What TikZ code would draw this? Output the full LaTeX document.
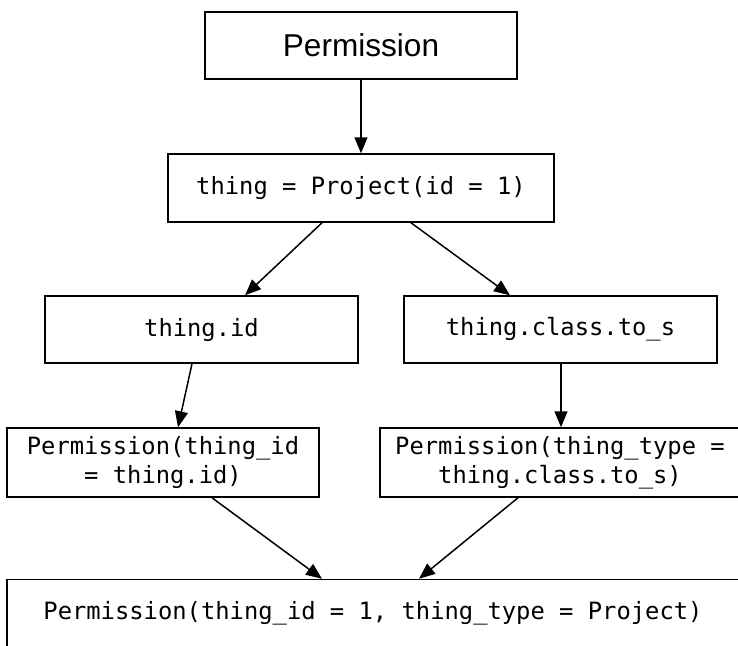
\documentclass[tikz,border=0pt]{standalone}
\usepackage{fontspec}
\setmainfont{Liberation Sans}
\setmonofont{DejaVu Sans Mono}
\usepackage{tikz}
\usetikzlibrary{arrows.meta,calc}

\newcommand{\codefont}{\fontsize{11.9}{14.5}\selectfont\ttfamily}
\newcommand{\titlefont}{\fontsize{15.8}{18}\selectfont}

\begin{document}
\begin{tikzpicture}[x=0.5pt,y=-0.5pt]
\tikzset{>={Triangle[length=8pt,width=6.5pt]}}
\tikzstyle{every node}=[rectangle,draw,line width=0.75pt,inner sep=0pt,align=center,font=\codefont]
\tikzstyle{link}=[->,line width=0.75pt]
\useasboundingbox (0,0) rectangle (738,645);
\clip (0,0) rectangle (738,645);

\node[minimum width=156pt,minimum height=33.5pt,font=\titlefont] (perm) at (361,45.5) {Permission};
\node[minimum width=193pt,minimum height=34pt] (thing) at (361,188) {thing = Project(id = 1)};
\node[minimum width=156.5pt,minimum height=33.5pt] (id) at (201.5,329.5) {thing.id};
\node[minimum width=156.5pt,minimum height=33.5pt] (cls) at (560.5,329.5) {thing.class.to\_s};
\node[minimum width=156pt,minimum height=34.5pt] (pid) at (163,462.5) {Permission(thing\_id\\= thing.id)};
\node[minimum width=180pt,minimum height=34.5pt] (ptype) at (560,462.5) {Permission(thing\_type =\\thing.class.to\_s)};
\node[minimum width=370pt,minimum height=33.5pt] (perm1) at (377,613) {Permission(thing\_id = 1, thing\_type = Project)\hspace*{4pt}};

\draw[link] (perm) -- (thing);
\draw[link] ($(thing.south)+(-39,0)$) -- ($(id.north)+(43.5,0)$);
\draw[link] ($(thing.south)+(50,0)$) -- ($(cls.north)+(-50.5,0)$);
\draw[link] ($(id.south)+(-9.5,0)$) -- ($(pid.north)+(15,0)$);
\draw[link] ($(cls.south)+(0.5,0)$) -- ($(ptype.north)+(1,0)$);
\draw[link] ($(pid.south)+(49,0)$) -- ($(perm1.north)+(-55,0)$);
\draw[link] ($(ptype.south)+(-42,0)$) -- ($(perm1.north)+(42,0)$);
\end{tikzpicture}
\end{document}
